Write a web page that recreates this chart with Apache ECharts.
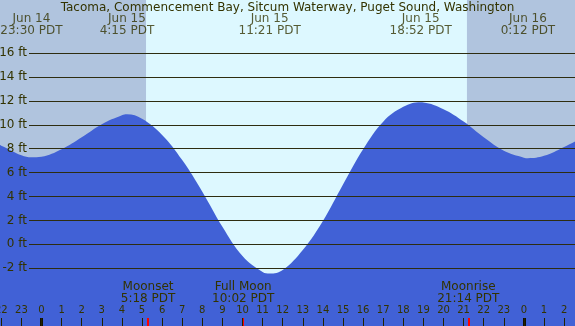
<!DOCTYPE html>
<html>
<head>
<meta charset="utf-8">
<script src="https://cdn.jsdelivr.net/npm/echarts@6/dist/echarts.min.js"></script>
<style>
html, body { margin: 0; padding: 0; background: #b0c4de; }
#main { width: 575px; height: 326px; }
</style>
</head>
<body>
<div id="main"></div>
<script>
var titleText = 'Tacoma, Commencement Bay, Sitcum Waterway, Puget Sound, Washington';

// hourly water level (ft), hour -3 .. 27 counted from Jun 15 00:00 PDT
var hourStart = -3;
var tideHourly = [9.0, 8.25, 7.45, 7.33, 7.95, 8.95, 10.05, 10.8, 10.5, 9.15,
    7.05, 4.4, 1.47, -0.98, -2.32, -2.15, -0.48, 1.95, 5.0, 7.95,
    10.26, 11.5, 11.87, 11.3, 10.27, 8.95, 7.83, 7.25, 7.4, 8.15, 9.0];

// high / low tides
var extremeDays = ['Jun 14', 'Jun 15', 'Jun 15', 'Jun 15', 'Jun 16'];
var extremeClock = ['23:30', '4:15', '11:21', '18:52', '0:12'];
var extremeHeights = [7.28, 10.88, -2.45, 11.88, 7.2];

// sun and moon (Jun 15)
var sunClock = ['5:12', '21:10'];
var moonNames = ['Moonset', 'Full Moon', 'Moonrise'];
var moonClock = ['5:18', '10:02', '21:14'];
var midnights = [0, 24];

var ftTicks = [-2, 16, 2]; // min, max, step of the ft grid

var dayOffset = { 'Jun 14': -24, 'Jun 15': 0, 'Jun 16': 24 };
function toHours(day, clock) {
    var p = clock.split(':');
    return dayOffset[day] + (+p[0]) + (+p[1]) / 60;
}

var textColor = '#333300';
var fontFam = 'DejaVu Sans';

// tide points: hourly readings + the extremes, sorted by time
var tideData = tideHourly.map(function (v, i) { return [hourStart + i, v]; });
extremeHeights.forEach(function (v, i) {
    tideData.push([toHours(extremeDays[i], extremeClock[i]), v]);
});
tideData.sort(function (a, b) { return a[0] - b[0]; });

var extremeLabels = extremeClock.map(function (c, i) {
    return { value: [toHours(extremeDays[i], c), 0.5], name: extremeDays[i] + '\n' + c + ' PDT' };
});

var myChart = echarts.init(document.getElementById('main'));
myChart.setOption({
    backgroundColor: '#b0c4de',
    animation: false,
    title: {
        text: titleText,
        left: 'center',
        top: 2,
        padding: 0,
        textStyle: { color: textColor, fontSize: 12, fontWeight: 'normal', fontFamily: fontFam }
    },
    grid: [
        { left: 0, right: 0, top: 0, bottom: 0, outerBoundsMode: 'none' },          // data
        { left: 29, right: 0, top: 53.1, bottom: 57.8, outerBoundsMode: 'none' },   // ft lines
        { left: 1.3, right: 10.9, top: 318, bottom: 0, outerBoundsMode: 'none' },   // hour ticks
        { left: 1.3, right: 10.9, top: 12, height: 26, outerBoundsMode: 'none' }    // tide times
    ],
    xAxis: [
        { gridIndex: 0, type: 'value', min: -2.065, max: 26.542, show: false },
        { gridIndex: 1, type: 'value', min: 0, max: 1, show: false },
        {
            // hour ticks are drawn as the axis split lines (grid is 8px tall)
            gridIndex: 2, type: 'value', min: -2, max: 26, interval: 1, position: 'top', z: 6,
            axisLine: { show: false },
            axisTick: { show: false },
            splitLine: { show: true, lineStyle: { color: '#222200', width: 1, type: 'solid' } },
            axisLabel: {
                show: true, margin: 3, color: textColor, fontSize: 10, fontFamily: fontFam,
                showMinLabel: true, showMaxLabel: true, hideOverlap: false,
                formatter: function (v) { return String(((v % 24) + 24) % 24); }
            }
        },
        { gridIndex: 3, type: 'value', min: -2, max: 26, show: false }
    ],
    yAxis: [
        { gridIndex: 0, type: 'value', min: -6.837, max: 20.443, show: false },
        {
            gridIndex: 1, type: 'value', min: ftTicks[0], max: ftTicks[1], interval: ftTicks[2], z: 5,
            axisLine: { show: false },
            axisTick: { show: false },
            splitLine: { lineStyle: { color: '#2e2d10', width: 1 } },
            axisLabel: { margin: 2, color: textColor, fontSize: 12, fontFamily: fontFam, formatter: '{value} ft' }
        },
        { gridIndex: 2, type: 'value', min: 0, max: 1, show: false },
        { gridIndex: 3, type: 'value', min: 0, max: 1, show: false }
    ],
    series: [
        {
            name: 'daylight', type: 'line', xAxisIndex: 0, yAxisIndex: 0, data: [], z: 1, silent: true,
            markArea: {
                silent: true,
                itemStyle: { color: '#ddf8ff' },
                data: [[{ xAxis: toHours('Jun 15', sunClock[0]) }, { xAxis: toHours('Jun 15', sunClock[1]) }]]
            }
        },
        {
            name: 'tide', type: 'line', xAxisIndex: 0, yAxisIndex: 0, data: tideData, z: 2,
            smooth: 0.4, symbol: 'none', silent: true,
            lineStyle: { width: 0 },
            areaStyle: { color: '#4161d6', opacity: 1, origin: 'start' }
        },
        {
            name: 'midnight', type: 'line', xAxisIndex: 2, yAxisIndex: 2, data: [], z: 7,
            markLine: {
                symbol: 'none', silent: true, label: { show: false },
                lineStyle: { color: '#111100', width: 3, type: 'solid' },
                data: midnights.map(function (h) { return [{ coord: [h, 0] }, { coord: [h, 1] }]; })
            }
        },
        {
            name: 'moon', type: 'line', xAxisIndex: 2, yAxisIndex: 2, data: [], z: 7,
            markLine: {
                symbol: 'none', silent: true,
                lineStyle: { color: '#ff0000', width: 2, type: 'solid' },
                label: {
                    show: true, position: 'end', distance: 13, color: textColor,
                    fontSize: 12, lineHeight: 12, fontFamily: fontFam,
                    formatter: function (p) { return p.name; }
                },
                data: moonNames.map(function (n, i) {
                    var h = toHours('Jun 15', moonClock[i]);
                    return [{ coord: [h, 0], name: n + '\n' + moonClock[i] + ' PDT' }, { coord: [h, 1] }];
                })
            }
        },
        {
            name: 'extremes', type: 'scatter', xAxisIndex: 3, yAxisIndex: 3, z: 6, silent: true,
            symbolSize: 1, itemStyle: { color: 'transparent' },
            data: extremeLabels,
            label: {
                show: true, position: 'inside', color: textColor, fontSize: 12, lineHeight: 12,
                fontFamily: fontFam, formatter: function (p) { return p.name; }
            }
        }
    ]
});
</script>
</body>
</html>
